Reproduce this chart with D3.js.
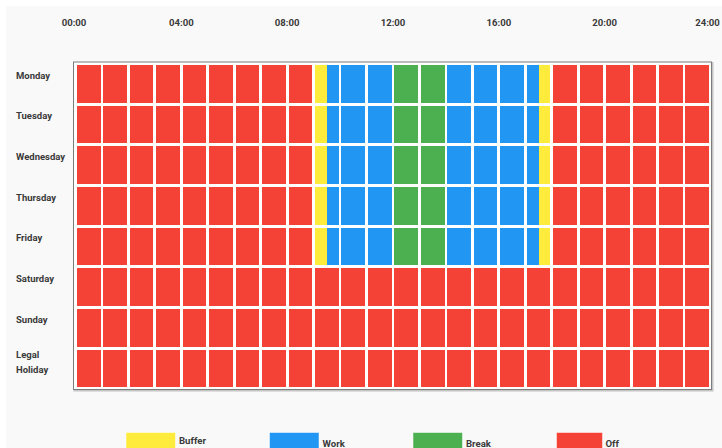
<!DOCTYPE html>
<html>
<head>
<meta charset="utf-8">
<script src="https://cdn.jsdelivr.net/npm/d3@7"></script>
<style>
  html, body { margin: 0; padding: 0; background: #ffffff; }
  svg { display: block; }
  text { font-family: Roboto, "Noto Sans", sans-serif; font-weight: bold; fill: #3a3a3a; }
</style>
</head>
<body>
<svg id="chart" width="722" height="448"></svg>
<script>
// ---- data ----
const days = ["Monday", "Tuesday", "Wednesday", "Thursday", "Friday", "Saturday", "Sunday", "Legal Holiday"];
const hourTicks = [0, 4, 8, 12, 16, 20, 24];
const hourTickLabels = ["00:00", "04:00", "08:00", "12:00", "16:00", "20:00", "24:00"];
const statuses = ["Buffer", "Work", "Break", "Off"];
const statusColors = ["#ffeb3b", "#2196f3", "#4caf50", "#f44336"];

// workday schedule (hours)
const workdayStarts = [0, 9, 9.5, 12, 14, 17.5, 18];
const workdayEnds   = [9, 9.5, 12, 14, 17.5, 18, 24];
const workdayTypes  = ["Off", "Buffer", "Work", "Break", "Work", "Buffer", "Off"];
// rest day schedule
const restStarts = [0];
const restEnds   = [24];
const restTypes  = ["Off"];
// which schedule each day uses
const daySchedule = ["work", "work", "work", "work", "work", "rest", "rest", "rest"];

// ---- build ----
const svg = d3.select("#chart");
const W = 722, H = 448;

svg.append("rect").attr("x", 6).attr("y", 6).attr("width", W - 6).attr("height", H - 6).attr("fill", "#f9f9f9");

const x = d3.scaleLinear().domain([0, 24]).range([75.5, 710.5]);
const y = d3.scaleBand().domain(days).range([63.5, 388.8]);
const color = d3.scaleOrdinal().domain(statuses).range(statusColors);

// grid box with shadow
const bx0 = 73.5, bx1 = 711.5, by0 = 62, by1 = 389.5;
svg.append("rect").attr("x", bx0 + 1).attr("y", by0 + 1).attr("width", bx1 - bx0).attr("height", by1 - by0)
  .attr("fill", "none").attr("stroke", "#c4c4c4").attr("stroke-width", 2);
svg.append("rect").attr("x", bx0).attr("y", by0).attr("width", bx1 - bx0).attr("height", by1 - by0)
  .attr("fill", "#ffffff").attr("stroke", "#7c7c7c").attr("stroke-width", 1);

function scheduleFor(i) {
  if (daySchedule[i] === "work") {
    return workdayStarts.map((s, k) => ({ start: s, end: workdayEnds[k], type: workdayTypes[k] }));
  }
  return restStarts.map((s, k) => ({ start: s, end: restEnds[k], type: restTypes[k] }));
}

const inset = 1.4;
const pieces = [];
days.forEach((day, i) => {
  const segs = scheduleFor(i);
  for (let h = 0; h < 24; h++) {
    const cl = x(h) + inset, cr = x(h + 1) - inset;
    const cw = cr - cl;
    segs.forEach(s => {
      const a = Math.max(s.start, h), b = Math.min(s.end, h + 1);
      if (b > a) {
        pieces.push({ day, type: s.type, x0: cl + (a - h) * cw, x1: cl + (b - h) * cw });
      }
    });
  }
});

svg.append("g").selectAll("rect").data(pieces).join("rect")
  .attr("x", d => d.x0)
  .attr("y", d => y(d.day) + inset)
  .attr("width", d => d.x1 - d.x0)
  .attr("height", y.bandwidth() - 2 * inset)
  .attr("fill", d => color(d.type))
  .attr("shape-rendering", "crispEdges");

// top hour labels
svg.append("g").selectAll("text").data(hourTicks).join("text")
  .attr("x", (d, i) => x(d) + (i === 0 ? -1.5 : (i === hourTicks.length - 1 ? -3 : 0)))
  .attr("y", 26)
  .attr("text-anchor", "middle")
  .attr("font-size", 9.6)
  .text((d, i) => hourTickLabels[i]);

// day labels
const dayG = svg.append("g");
days.forEach(day => {
  const words = day.split(" ");
  const n = words.length;
  const t = dayG.append("text").attr("font-size", 9.5);
  words.forEach((w, k) => {
    t.append("tspan")
      .attr("x", 16)
      .attr("y", y(day) + 15.2 - (n - 1) * 5.3 + k * 14.5)
      .text(w);
  });
});

// legend
const lx = d3.scalePoint().domain(statuses).range([126, 556.5]);
const leg = svg.append("g");
statuses.forEach((s, i) => {
  leg.append("rect")
    .attr("x", lx(s)).attr("y", 432.5)
    .attr("width", i === statuses.length - 1 ? 46 : 49.5).attr("height", 18)
    .attr("fill", color(s)).attr("stroke", "#ffffff").attr("stroke-opacity", 0.5).attr("stroke-width", 1);
  leg.append("text")
    .attr("x", lx(s) + (i === statuses.length - 1 ? 49 : 53))
    .attr("y", i === 0 ? 443.5 : 446.8)
    .attr("font-size", 9.6)
    .text(s);
});
</script>
</body>
</html>
